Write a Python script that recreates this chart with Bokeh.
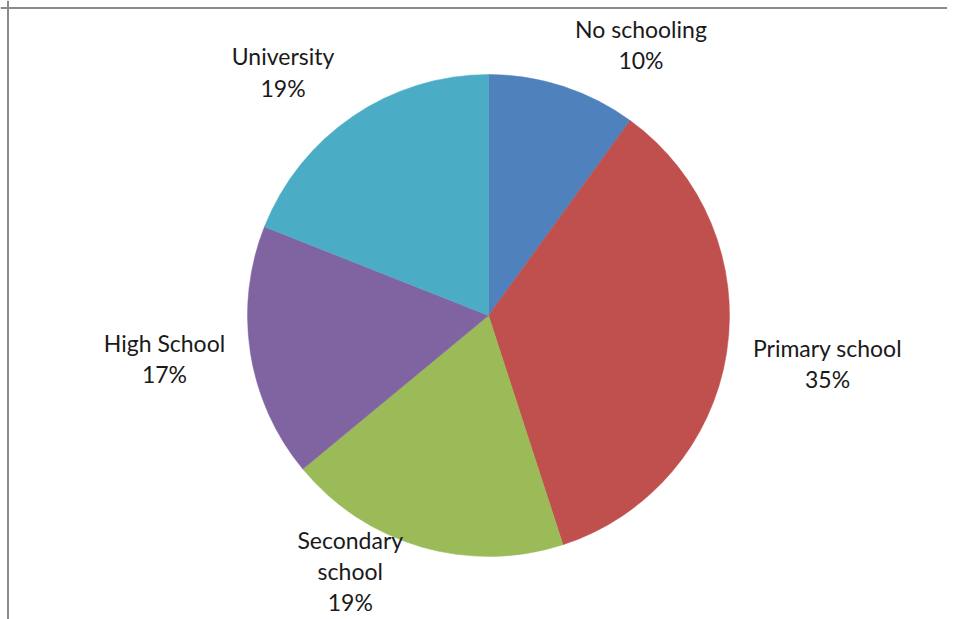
import math
from bokeh.plotting import figure
from bokeh.models import Range1d, Span, ColumnDataSource
from bokeh.core.properties import value
from bokeh.embed import file_html
from bokeh.resources import INLINE

categories = ["No schooling", "Primary school", "Secondary school", "High School", "University"]
shares = [10, 35, 19, 17, 19]
label_texts = ["No schooling\n10%", "Primary school\n35%", "Secondary\nschool\n19%", "High School\n17%", "University\n19%"]
colors = ["#4F81BD", "#C0504D", "#9BBB59", "#8064A2", "#4BACC6"]

# layout: pixel offsets of each label block from its slice's edge point
label_dx = [78, 101, -71, -86, -70]
label_dy = [-42, 10, 24, 5, -44]

R = 241
total = float(sum(shares))
starts, ends, lx, ly = [], [], [], []
cum = 0.0
for v in shares:
    a0 = cum / total
    cum += v
    a1 = cum / total
    starts.append(math.pi / 2 - 2 * math.pi * a0)
    ends.append(math.pi / 2 - 2 * math.pi * a1)
    mid = 2 * math.pi * (a0 + a1) / 2
    lx.append(R * math.sin(mid))
    ly.append(R * math.cos(mid))

src = ColumnDataSource(dict(cat=categories, start=starts, end=ends, color=colors))
lsrc = ColumnDataSource(dict(x=lx, y=ly, text=label_texts, dx=label_dx, dy=label_dy))

p = figure(width=947, height=619, output_backend="svg", toolbar_location=None,
           x_range=Range1d(-488, 459), y_range=Range1d(-304, 315), min_border=0)
p.axis.visible = False
p.grid.visible = False
p.outline_line_color = None
p.background_fill_color = "white"
p.border_fill_color = "white"

p.wedge(x=0, y=0, radius=R, start_angle="start", end_angle="end", direction="clock",
        fill_color="color", line_color="color", line_width=0.5, source=src)

p.text(x="x", y="y", text="text", x_offset="dx", y_offset="dy", source=lsrc,
       text_align="center", text_baseline="middle", text_font=value("Lato"),
       text_font_size="23px", text_color="#1a1a1a", text_line_height=1.12)

p.add_layout(Span(location=-480.5, dimension="height", line_color="#8a8a8a", line_width=2))
p.add_layout(Span(location=307.5, dimension="width", line_color="#8a8a8a", line_width=2))

open("out.html", "w").write(file_html(p, INLINE))
